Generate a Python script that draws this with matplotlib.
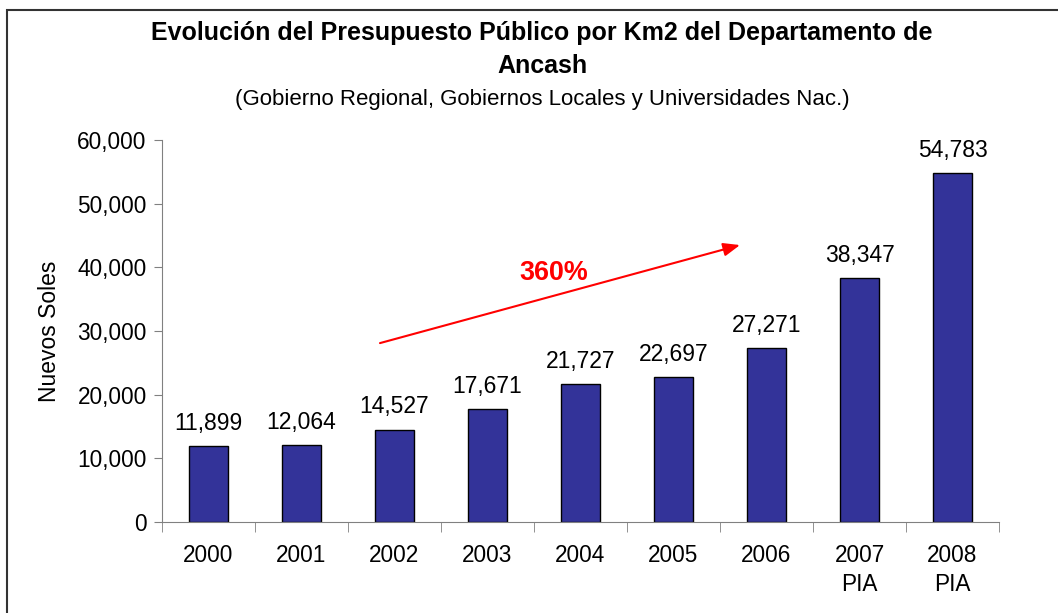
import matplotlib
matplotlib.use("Agg")
import matplotlib.pyplot as plt
from matplotlib.patches import Rectangle
from matplotlib.ticker import FuncFormatter, FixedLocator
import numpy as np

years = ["2000", "2001", "2002", "2003", "2004", "2005", "2006", "2007\nPIA", "2008\nPIA"]
values = [11899, 12064, 14527, 17671, 21727, 22697, 27271, 38347, 54783]

plt.rcParams['font.family'] = ['Liberation Sans', 'DejaVu Sans']

W, H = 1058, 613
fig = plt.figure(figsize=(W / 100, H / 100), dpi=100)
ax = fig.add_axes([162 / W, 1 - 522 / H, (999 - 162) / W, (522 - 140) / H])

x = np.arange(len(years))
bars = ax.bar(x, values, width=0.41, color="#333399", edgecolor="black", linewidth=1)

for xi, v in zip(x, values):
    ax.annotate(f"{v:,}", (xi, v), xytext=(0, 8), textcoords="offset points",
                ha="center", va="bottom", fontsize=16.5)

ax.set_xlim(-0.5, len(years) - 0.5)
ax.set_ylim(0, 60000)
ax.set_yticks(np.arange(0, 60001, 10000))
ax.yaxis.set_major_formatter(FuncFormatter(lambda v, p: f"{int(v):,}"))
ax.tick_params(axis="y", labelsize=16.3, length=6, color="#808080", pad=5)

ax.set_xticks(x)
ax.set_xticklabels(years, fontsize=16.3, linespacing=1.3)
ax.tick_params(axis="x", length=0, pad=16)
ax.xaxis.set_minor_locator(FixedLocator(np.arange(-0.5, len(years), 1.0)))
ax.tick_params(axis="x", which="minor", length=7, color="#808080")

for s in ["top", "right"]:
    ax.spines[s].set_visible(False)
for s in ["left", "bottom"]:
    ax.spines[s].set_color("#808080")

ax.set_ylabel("Nuevos Soles", fontsize=16.5, labelpad=12)

# growth arrow
ax.annotate("", xy=(5.715, 43500), xytext=(1.844, 28100),
            arrowprops=dict(arrowstyle="-|>,head_length=1.0,head_width=0.4",
                            color="red", lw=1.5, shrinkA=0, shrinkB=0))
ax.text(3.715, 39100, "360%", color="red", fontsize=19.4, fontweight="bold",
        ha="center", va="center")

fig.text(542 / W, 1 - 33 / H, "Evolución del Presupuesto Público por Km2 del Departamento de",
         ha="center", va="center", fontsize=18, fontweight="bold")
fig.text(542 / W, 1 - 66 / H, "Ancash", ha="center", va="center", fontsize=18, fontweight="bold")
fig.text(542 / W, 1 - 99 / H, "(Gobierno Regional, Gobiernos Locales y Universidades Nac.)",
         ha="center", va="center", fontsize=16)

fig.patches.append(Rectangle((7 / W, -0.1), 1.2, 1.1 - 10 / H, transform=fig.transFigure,
                             fill=False, edgecolor="#333333", linewidth=1.5))

fig.savefig("out.png", dpi=100)
